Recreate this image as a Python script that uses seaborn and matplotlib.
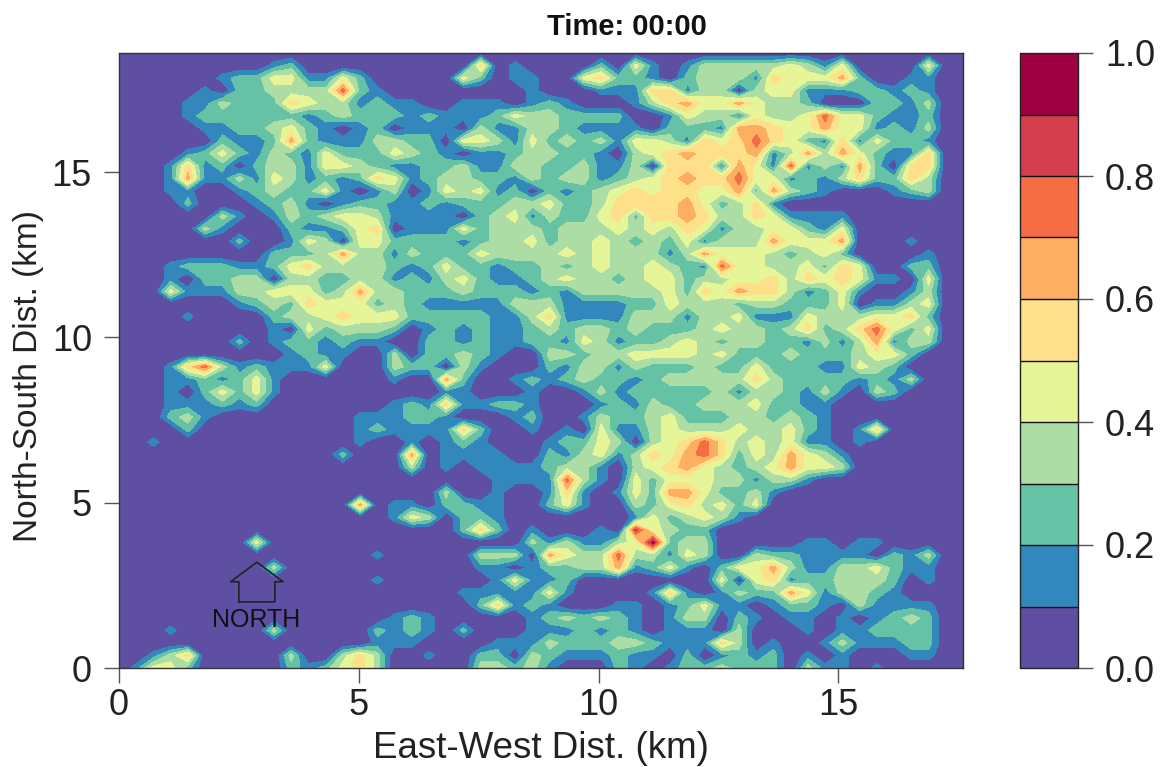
"""
Карта поля на сетке 50x50: заливка по уровням 0-1 с шагом 0.1.
"""

import matplotlib
matplotlib.use('Agg')
import matplotlib.pyplot as plt
import numpy as np
import seaborn as sns

# номер полосы цветовой шкалы в каждой точке сетки, строки сверху вниз
band_rows = [
    "0000000000 0000000000 0000000000 0000000000 0000000000",
    "0000000001 2000000000 0501000020 4101333334 3140000400",
    "0000001224 4114200000 4201100452 2102333154 4462001100",
    "0000010223 3337210000 0000100011 1551330344 1112212100",
    "0000113222 5433121100 1110121000 1356446433 2000221300",
    "0000122222 2123222121 1124332222 0014331433 4744211200",
    "0000011223 4210120111 0311332111 1022216654 4644121300",
    "0000002112 6211133220 4431423231 4431545754 2151422100",
    "0000124213 2142224321 0112332210 3456555613 6364211500",
    "0001512023 3144321122 3113322311 3055516417 1316205500",
    "0001611314 3121254123 3221323312 3456557441 2135225300",
    "0001100123 2241013014 3412021234 5455446263 2100012300",
    "0000200012 3101221121 2223342235 5556423510 0000000000",
    "0000003101 3234431111 0234132245 2556533541 1110000000",
    "0000031000 2112450111 4233323334 3435413344 2140000000",
    "0000000200 1430442222 1233423343 2324133364 4460001000",
    "0000000002 2236331322 2433334343 3313644432 3420000100",
    "0001222112 4533332124 2212232343 3432174433 4254002200",
    "0001022330 3322331213 4211234332 3442334453 5454110400",
    "0004111334 4423633222 3222121333 3342546553 1241001300",
    "0000000123 2544423211 1113331111 2243332332 2240113400",
    "0000100002 3345444222 2211351111 3331334111 4333445200",
    "0000000001 0423332012 1211232332 3222343323 5235742400",
    "0000000201 2212110022 1211221431 2234323322 1313613300",
    "0000000000 1211003022 3210033233 4444342223 2223442000",
    "0001573121 1140003220 3100021331 3222322422 2114320000",
    "0001121241 0000001006 2001212322 1233333532 2221213000",
    "0001024241 0000000001 1000100131 2222231332 1310320000",
    "0001112120 0000001215 1122100012 1322333422 1100000000",
    "0002310000 0000111221 0001200132 2342223323 2100000000",
    "0000200000 0000121111 5200101041 1343334334 2101500000",
    "0010000000 0000100101 2100012243 0345753434 1101000000",
    "0000000000 0002000601 1110021341 3546752436 4310000000",
    "0000000000 0000000301 0111123310 3456432346 4430000000",
    "0000000000 0000000000 0011117310 4244433133 1000000000",
    "0000000000 0000000003 0010015101 4266422310 0000000000",
    "0000000000 0000601102 2110024100 3245342400 0000000000",
    "0000000000 0000001430 2210000000 1423431000 0000000000",
    "0000000000 0000000000 2520100010 8432200000 0000000000",
    "0000000040 0000000000 0000313113 4923300000 1101100000",
    "0000000000 0000010000 0333064337 3314300322 1111021300",
    "0000000003 0000000000 0110122336 1241024463 1133421100",
    "0000000000 0000010000 0014112000 0000040451 2233320100",
    "0000000000 0000000000 1111141000 0151013226 4133210000",
    "0000000000 0000000000 0251210001 1012411012 2103111100",
    "0000000000 0000001210 0000123232 1013302101 1010123200",
    "0001000003 0000021210 2000111212 1011103000 1011222200",
    "0000000000 0000011100 0011132223 3211153010 0131112200",
    "0013500000 3003530010 0220321112 1102012120 1010001100",
    "0144200000 2124530000 0332310002 1012232220 3110100000",
]

levels = [0.0, 0.1, 0.2, 0.3, 0.4, 0.5, 0.6, 0.7, 0.8, 0.9, 1.0]
band_colors = ['#5E4FA2', '#3288BD', '#66C2A5', '#ABDDA4', '#E6F598',
               '#FEE08B', '#FDAE61', '#F46D43', '#D53E4F', '#9E0142']
x_ticks = [0, 5, 10, 15]
y_ticks = [0, 5, 10, 15]
bar_ticks = [0.0, 0.2, 0.4, 0.6, 0.8, 1.0]
x_max = 17.6
y_max = 18.6

sns.set_theme(style='ticks')
plt.rcParams['font.family'] = ['Liberation Sans', 'DejaVu Sans']

grid = np.array([[int(c) for c in row.replace(' ', '')] for row in band_rows], dtype=float)
grid = np.where(grid > 0, (grid + 0.5) / 10, 0.0)[::-1]
x = np.linspace(0, x_max, grid.shape[1])
y = np.linspace(0, y_max, grid.shape[0])

W, H = 1164, 767
fig = plt.figure(figsize=(W / 100, H / 100), dpi=100)
ax = fig.add_axes([119 / W, 1 - 668 / H, 844 / W, 615 / H])
cax = fig.add_axes([1020 / W, 1 - 668 / H, 58 / W, 615 / H])

palette = sns.color_palette(band_colors)
cs = ax.contourf(x, y, grid, levels=levels, colors=palette)
ax.set_xlim(0, x_max)
ax.set_ylim(0, y_max)
ax.set_xticks(x_ticks)
ax.set_yticks(y_ticks)
ax.tick_params(axis='x', length=10.5, width=1, labelsize=26, color='#555555', pad=4, labelcolor='#222222')
ax.tick_params(axis='y', length=10.5, width=1, labelsize=26, color='#555555', pad=9, labelcolor='#222222')
ax.set_xlabel('East-West Dist. (km)', fontsize=26.5, color='#222222', va='center')
ax.xaxis.set_label_coords(0.5, (668 - 748) / 615)
ax.set_ylabel('North-South Dist. (km)', fontsize=24, color='#222222', va='center')
ax.yaxis.set_label_coords((29 - 119) / 844, (668 - 376) / 615)
for spine in ax.spines.values():
    spine.set_visible(True)
    spine.set_linewidth(1)
    spine.set_color('#333333')

# стрелка севера
ax.plot([2.5, 2.5, 2.33, 2.875, 3.42, 3.25, 3.25, 2.5],
        [2.0, 2.61, 2.61, 3.2, 2.61, 2.61, 2.0, 2.0], color='#222222', lw=1.2)
ax.text(2.85, 1.45, 'NORTH', fontsize=18, ha='center', va='center', color='#111111')

cbar = fig.colorbar(cs, cax=cax, ticks=bar_ticks, drawedges=True)
cbar.dividers.set_color('#111111')
cbar.dividers.set_linewidth(1)
cbar.outline.set_edgecolor('#222222')
cbar.outline.set_linewidth(1)
cax.tick_params(length=10.5, width=1, labelsize=26, color='#555555', pad=9, labelcolor='#222222')
cax.set_yticklabels(['0.0', '0.2', '0.4', '0.6', '0.8', '1.0'])

fig.text(627 / W, 1 - 27 / H, 'Time: 00:00', fontsize=21, fontweight='bold',
         ha='center', va='center', color='#111111')

plt.savefig('out.png', dpi=100)
plt.close()
